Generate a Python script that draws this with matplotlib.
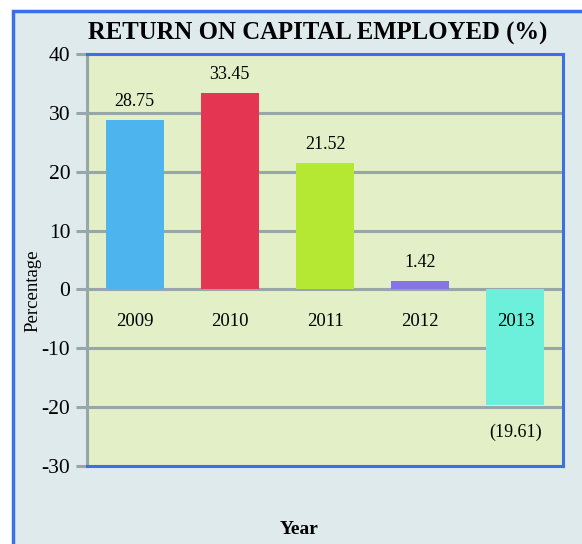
import matplotlib
matplotlib.use("Agg")
import matplotlib.pyplot as plt
from matplotlib.patches import Rectangle

years = ["2009", "2010", "2011", "2012", "2013"]
values = [28.75, 33.45, 21.52, 1.42, -19.61]
value_labels = ["28.75", "33.45", "21.52", "1.42", "(19.61)"]
bar_colors = ["#4db4ee", "#e43652", "#b4e832", "#8673e6", "#6cefdb"]
yticks = [-30, -20, -10, 0, 10, 20, 30, 40]

SERIF = ["Liberation Serif", "DejaVu Serif"]
plt.rcParams["font.family"] = SERIF
plt.rcParams["axes.unicode_minus"] = False

W, H = 582, 544
fig = plt.figure(figsize=(W / 100, H / 100), dpi=100)
fig.patch.set_facecolor("white")

# outer frame
frame = Rectangle((13 / W, -0.05), 1.1, 1 - 11 / H + 0.05, transform=fig.transFigure,
                  facecolor="#deeaec", edgecolor="#3c6ee6", linewidth=2.5, zorder=-10)
fig.patches.append(frame)

ax = fig.add_axes([87 / W, 1 - 466 / H, (563 - 87) / W, (466 - 54) / H])
ax.set_zorder(1)
ax.set_facecolor("#e3efc6")
x = list(range(len(years)))
ax.bar(x, values, width=0.61, color=bar_colors, zorder=3)
ax.set_xlim(-0.5, 4.5)
ax.set_ylim(-30, 40)
ax.set_yticks(yticks)
ax.set_yticklabels([str(t) for t in yticks])
for t in ax.get_yticklabels():
    t.set_fontfamily("Liberation Serif")
    t.set_fontsize(15.5)
ax.set_xticks([])
ax.yaxis.grid(True, color="#97a6a9", linewidth=2.2, zorder=1)
ax.set_axisbelow(True)
ax.tick_params(axis="y", length=8, width=2.2, color="#97a6a9", pad=4)
for s in ["top", "right", "bottom"]:
    ax.spines[s].set_color("#3c6ee6")
    ax.spines[s].set_linewidth(2.2)
    ax.spines[s].set_zorder(5)
ax.spines["left"].set_color("#97a6a9")
ax.spines["left"].set_linewidth(2.2)

for xi, v, lab, yr in zip(x, values, value_labels, years):
    if v >= 0:
        ax.text(xi, v + 1.7, lab, ha="center", va="bottom", fontsize=13, zorder=6)
    else:
        ax.text(xi, v - 3.2, lab, ha="center", va="top", fontsize=13, zorder=6)
    ax.text(xi, -5.5, yr, ha="center", va="center", fontsize=13.5, zorder=6)

fig.text(318 / W, 1 - 33 / H, "RETURN ON CAPITAL EMPLOYED (%)", ha="center", va="center",
         fontsize=17.8, fontweight="bold")
fig.text(299 / W, 1 - 530 / H, "Year", ha="center", va="center", fontsize=14, fontweight="bold")
fig.text(33 / W, 1 - 291 / H, "Percentage", ha="center", va="center", rotation=90, fontsize=13.5)

fig.savefig("out.png", dpi=100)
